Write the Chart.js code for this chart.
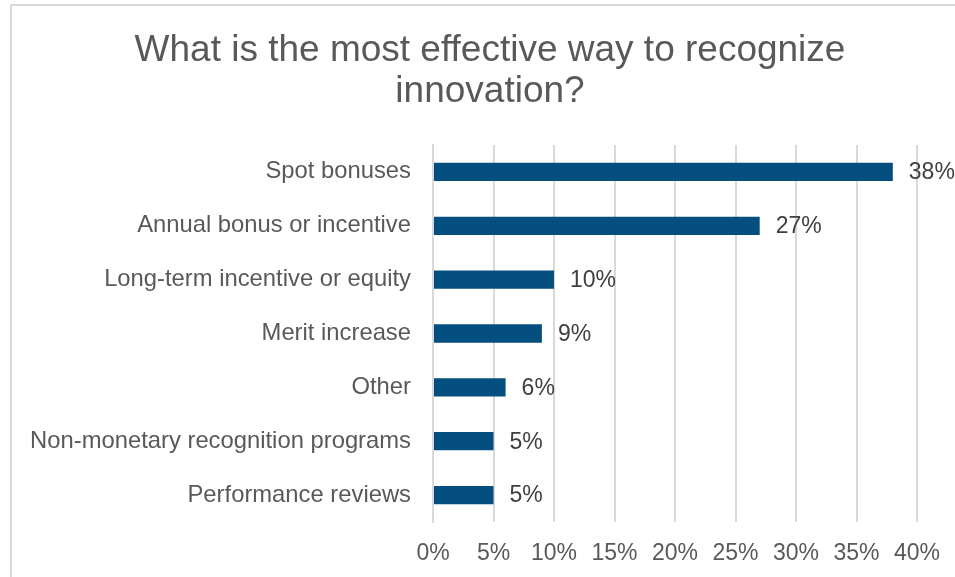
<!DOCTYPE html>
<html>
<head>
<meta charset="utf-8">
<script src="https://cdn.jsdelivr.net/npm/chart.js@4"></script>
<style>
    html, body { margin: 0; padding: 0; background: #fff; overflow: hidden; }
    #frame {
        position: absolute; left: 10px; top: 4px;
        width: 1100px; height: 800px;
        border: 2px solid #d9d9d9;
    }
    #wrap { position: absolute; left: 0; top: 0; width: 955px; height: 577px; }
    #title {
        position: absolute; left: 0; top: 28px; width: 980px;
        text-align: center;
        font: 37px/41px "Liberation Sans", Arial, sans-serif;
        color: #595959;
    }
</style>
</head>
<body>
<div id="frame"></div>
<div id="wrap"><canvas id="bar" width="955" height="577"></canvas></div>
<div id="title"></div>
<script>
var categories = [
    'Spot bonuses',
    'Annual bonus or incentive',
    'Long-term incentive or equity',
    'Merit increase',
    'Other',
    'Non-monetary recognition programs',
    'Performance reviews'
];
var shares = [38, 27, 10, 9, 6, 5, 5];
var tickValues = [0, 5, 10, 15, 20, 25, 30, 35, 40];
var titleLines = ['What is the most effective way to recognize', 'innovation?'];

var FONT = '"Liberation Sans", Arial, sans-serif';

// writes the percentage just past the end of each bar
var valueLabels = {
    id: 'valueLabels',
    afterDatasetsDraw: function (chart) {
        var ctx = chart.ctx;
        var meta = chart.getDatasetMeta(0);
        ctx.save();
        ctx.font = '23px ' + FONT;
        ctx.fillStyle = '#404040';
        ctx.textAlign = 'left';
        ctx.textBaseline = 'middle';
        meta.data.forEach(function (bar, i) {
            ctx.fillText(shares[i] + '%', bar.x + 16, bar.y + 1);
        });
        ctx.restore();
    }
};

document.addEventListener("DOMContentLoaded", function () {
    // title sits above the canvas so it can be centred on the whole frame
    document.getElementById('title').innerHTML = titleLines.join('<br>');

    var ctx = document.getElementById('bar').getContext('2d');

    new Chart(ctx, {
        type: 'bar',
        data: {
            labels: categories,
            datasets: [{
                data: shares,
                backgroundColor: '#044f7f',
                barPercentage: 0.34,
                categoryPercentage: 1
            }]
        },
        plugins: [valueLabels],
        options: {
            indexAxis: 'y',
            responsive: false,
            animation: false,
            layout: { padding: { left: 0, right: 38, top: 145, bottom: 0 } },
            plugins: {
                legend: { display: false },
                tooltip: { enabled: false },
                title: { display: false }
            },
            scales: {
                x: {
                    min: 0,
                    max: 40,
                    afterBuildTicks: function (scale) {
                        scale.ticks = tickValues.map(function (v) { return { value: v }; });
                    },
                    afterFit: function (scale) {
                        scale.height = 55;
                        scale.paddingLeft = 0;
                        scale.paddingRight = 0;
                    },
                    grid: { color: '#d9d9d9', lineWidth: 2, drawTicks: false },
                    border: { display: false },
                    ticks: {
                        padding: 18,
                        color: '#595959',
                        font: { family: FONT, size: 23 },
                        callback: function (v) { return v + '%'; }
                    }
                },
                y: {
                    afterFit: function (scale) { scale.width = 433; },
                    grid: { display: false, drawTicks: false },
                    border: { display: true, color: '#d9d9d9', width: 2 },
                    ticks: {
                        padding: 22,
                        color: '#595959',
                        font: { family: FONT, size: 23.8 }
                    }
                }
            }
        }
    });
});
</script>
</body>
</html>
